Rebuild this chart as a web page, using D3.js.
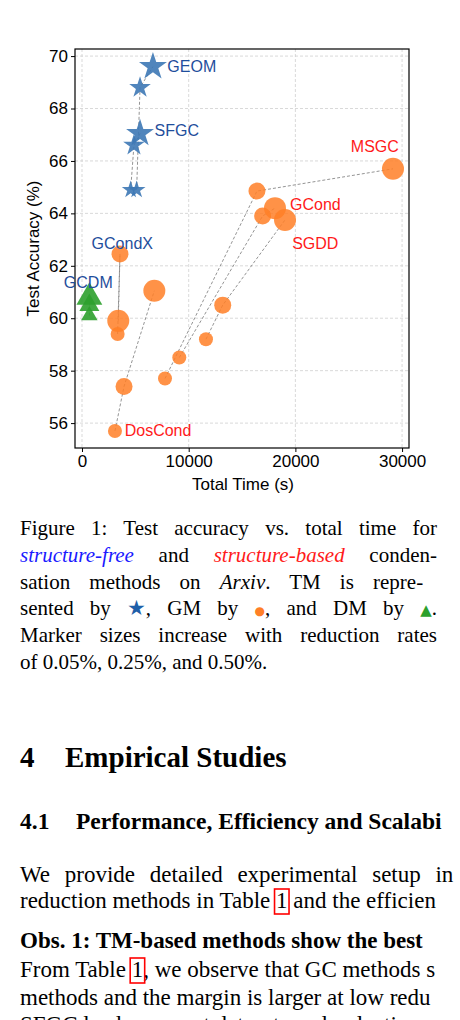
<!DOCTYPE html>
<html><head><meta charset="utf-8">
<script src="https://cdn.jsdelivr.net/npm/d3@7"></script>
<style>body{margin:0;background:#fff;overflow:hidden}</style>
</head><body>
<svg id="fig" width="460" height="1020"></svg>
<script>
// data: [time, accuracy, sizeIndex]
var methods = ["GEOM", "SFGC", "GCondX", "GCDM", "DosCond", "MSGC", "GCond", "SGDD"];
var kinds   = ["TM", "TM", "GM", "DM", "GM", "GM", "GM", "GM"];
var pointsGEOM    = [[5120, 64.9, 0], [5440, 68.8, 1], [6650, 69.6, 2]];
var pointsSFGC    = [[4560, 64.9, 0], [4870, 66.6, 1], [5440, 67.05, 2]];
var pointsGCondX  = [[3340, 59.4, 0], [3560, 62.45, 1], [3400, 59.9, 2]];
var pointsGCDM    = [[690, 60.1, 0], [690, 60.5, 1], [690, 60.8, 2]];
var pointsDosCond = [[3090, 55.7, 0], [3940, 57.4, 1], [6780, 61.05, 2]];
var pointsMSGC    = [[7780, 57.7, 0], [16400, 64.85, 1], [29150, 65.7, 2]];
var pointsGCond   = [[9120, 58.5, 0], [16930, 63.9, 1], [18090, 64.2, 2]];
var pointsSGDD    = [[11620, 59.2, 0], [13190, 60.5, 1], [19030, 63.75, 2]];
var series = [pointsGEOM, pointsSFGC, pointsGCondX, pointsGCDM, pointsDosCond, pointsMSGC, pointsGCond, pointsSGDD];
var xTicks = [0, 10000, 20000, 30000];
var yTicks = [56, 58, 60, 62, 64, 66, 68, 70];
// label anchors (data coords) and colours
var labelPos = [[8000, 69.55], [6800, 67.1], [900, 62.8], [-1700, 61.3], [4000, 55.65], [25200, 66.5], [19500, 64.3], [19700, 62.8]];
var labelCol = ["#1f4e9c", "#1f4e9c", "#1f4e9c", "#1f4e9c", "#ff1a1a", "#ff1a1a", "#ff1a1a", "#ff1a1a"];

var svg = d3.select("#fig");
var L = 75, R = 409, T = 49, B = 448;
var x = d3.scaleLinear().domain([-656, 30650]).range([L, R]);
var y = d3.scaleLinear().domain([55.05, 70.27]).range([B, T]);
var sans = "Liberation Sans, Arial, sans-serif";

// grid
svg.append("g").selectAll("line").data(xTicks).enter().append("line")
  .attr("x1", d => x(d)).attr("x2", d => x(d)).attr("y1", T).attr("y2", B)
  .attr("stroke", "#cfcfcf").attr("stroke-dasharray", "3,2").attr("stroke-width", 0.8);
svg.append("g").selectAll("line").data(yTicks).enter().append("line")
  .attr("y1", d => y(d)).attr("y2", d => y(d)).attr("x1", L).attr("x2", R)
  .attr("stroke", "#cfcfcf").attr("stroke-dasharray", "3,2").attr("stroke-width", 0.8);

// axes
var gx = svg.append("g").attr("transform", "translate(0," + B + ")")
  .call(d3.axisBottom(x).tickValues(xTicks).tickSize(4).tickFormat(d3.format("d")));
var gy = svg.append("g").attr("transform", "translate(" + L + ",0)")
  .call(d3.axisLeft(y).tickValues(yTicks).tickSize(4));
[gx, gy].forEach(g => {
  g.selectAll("text").attr("font-family", sans).attr("font-size", 17).attr("fill", "#000");
  g.select(".domain").remove();
});
svg.append("rect").attr("x", L).attr("y", T).attr("width", R - L).attr("height", B - T)
  .attr("fill", "none").attr("stroke", "#000").attr("stroke-width", 1.2);

svg.append("text").attr("x", 243).attr("y", 490).attr("text-anchor", "middle")
  .attr("font-family", sans).attr("font-size", 17).text("Total Time (s)");
svg.append("text").attr("transform", "translate(39," + ((T + B) / 2) + ") rotate(-90)")
  .attr("text-anchor", "middle").attr("font-family", sans).attr("font-size", 17).text("Test Accuracy (%)");

// dashed links
var line = d3.line().x(d => x(d[0])).y(d => y(d[1]));
var radii = [7, 8.5, 11];
var fills = {TM: "#3d78b5", GM: "#ff7f27", DM: "#2ca02c"};
var star = d3.symbol().type(d3.symbolStar);
var tri = d3.symbol().type(d3.symbolTriangle);

series.forEach(function (pts) {
  svg.append("path").attr("d", line(pts)).attr("fill", "none")
    .attr("stroke", "#888").attr("stroke-width", 0.9).attr("stroke-dasharray", "3,2");
});
series.forEach(function (pts, i) {
  var k = kinds[i];
  var g = svg.append("g");
  pts.forEach(function (p) {
    var r = radii[p[2]];
    if (k === "GM") {
      g.append("circle").attr("cx", x(p[0])).attr("cy", y(p[1])).attr("r", r)
        .attr("fill", fills.GM).attr("fill-opacity", 0.85);
    } else {
      g.append("path").attr("transform", "translate(" + x(p[0]) + "," + y(p[1]) + ")")
        .attr("d", (k === "TM" ? star : tri).size(r * r * (k === "TM" ? 2.0 : 2.4))())
        .attr("fill", fills[k]).attr("fill-opacity", 0.9);
    }
  });
});
methods.forEach(function (m, i) {
  svg.append("text").attr("x", x(labelPos[i][0])).attr("y", y(labelPos[i][1]))
    .attr("font-family", sans).attr("font-size", 16).attr("fill", labelCol[i])
    .attr("dominant-baseline", "middle").text(m);
});

// caption and body text
var serif = "Liberation Serif, Times New Roman, serif";
var capLines = [
  [["Figure 1: Test accuracy vs. total time for", "n"]],
  [["structure-free", "b"], [" and ", "n"], ["structure-based", "r"], [" conden-", "n"]],
  [["sation methods on ", "n"], ["Arxiv", "i"], [".  TM is repre-", "n"]],
  [["sented by ", "n"], ["\u2605", "star"], [", GM by ", "n"], ["\u25cf", "dot"], [", and DM by ", "n"], ["\u25b2", "tri"], [".", "n"]],
  [["Marker sizes increase with reduction rates", "n"]],
  [["of 0.05%, 0.25%, and 0.50%.", "n"]]
];
var spanStyle = {
  n: {fill: "#000"}, b: {fill: "#1a1aff", italic: 1}, r: {fill: "#ff1a1a", italic: 1}, i: {fill: "#000", italic: 1},
  star: {fill: "#1f5fa8", size: 21}, dot: {fill: "#ff7f27", size: 12}, tri: {fill: "#2ca02c", size: 15}
};
function justify(t, width) {
  var len = t.node().getComputedTextLength();
  var spaces = (t.text().match(/ /g) || []).length;
  if (spaces && len < width) t.attr("word-spacing", (width - len) / spaces);
}
capLines.forEach(function (segs, i) {
  var t = svg.append("text").attr("x", 20).attr("y", 535 + i * 26.8)
    .attr("font-family", serif).attr("font-size", 21);
  segs.forEach(function (s) {
    var st = spanStyle[s[1]];
    var ts = t.append("tspan").text(s[0]).attr("fill", st.fill);
    if (st.italic) ts.attr("font-style", "italic");
    if (st.size) ts.attr("font-size", st.size).attr("font-family", "DejaVu Sans");
  });
  if (i < capLines.length - 1) justify(t, 417);
});

svg.append("text").attr("x", 20).attr("y", 767).attr("font-family", serif).attr("font-size", 29)
  .attr("font-weight", "bold").text("4");
svg.append("text").attr("x", 65).attr("y", 767).attr("font-family", serif).attr("font-size", 29)
  .attr("font-weight", "bold").text("Empirical Studies");
svg.append("text").attr("x", 20).attr("y", 829).attr("font-family", serif).attr("font-size", 23.5)
  .attr("font-weight", "bold").text("4.1");
svg.append("text").attr("x", 76).attr("y", 829).attr("font-family", serif).attr("font-size", 23.5)
  .attr("font-weight", "bold").text("Performance, Efficiency and Scalabi");

// body lines: [baseline, before link, link, after link, bold, word spacing]
var body = [
  [882, "We provide detailed experimental setup in", "", "", false, 9],
  [908, "reduction methods in Table ", "1", " and the efficien", false, 0],
  [948, "Obs. 1: TM-based methods show the best", "", "", true, 0],
  [977, "From Table ", "1", ", we observe that GC methods s", false, 0],
  [1005, "methods and the margin is larger at low redu", "", "", false, 0],
  [1032, "SFGC leads on most datasets and reductio", "", "", false, 0]
];
body.forEach(function (b) {
  var t = svg.append("text").attr("x", 20).attr("y", b[0]).attr("font-family", serif).attr("font-size", 23)
    .attr("font-weight", b[4] ? "bold" : "normal").attr("word-spacing", b[5]);
  t.append("tspan").text(b[1]);
  if (b[2]) {
    var ref = t.append("tspan").text(b[2]);
    t.append("tspan").text(b[3]);
    var bb = ref.node().getBBox();
    svg.append("rect").attr("x", bb.x - 1.5).attr("y", b[0] - 19).attr("width", bb.width + 3).attr("height", 25)
      .attr("fill", "none").attr("stroke", "#ff0000").attr("stroke-width", 1.6);
  }
});
</script>
</body></html>
